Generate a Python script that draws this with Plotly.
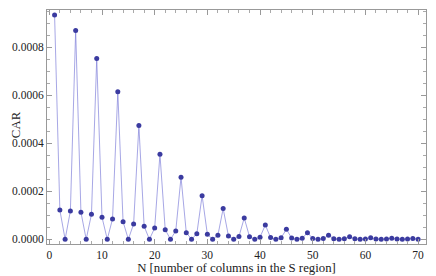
import plotly.graph_objects as go

N = list(range(1, 71))
peaks = {1: 0.000935, 5: 0.000871, 9: 0.000754, 13: 0.000615, 17: 0.000474,
         21: 0.000355, 25: 0.000259, 29: 0.000182, 33: 0.000128, 37: 0.0000889,
         41: 0.0000597, 45: 0.0000418, 49: 0.0000276, 53: 0.0000167, 57: 0.000011,
         61: 0.0000064, 65: 0.0000045, 69: 0.0000035}
sides = [0.000122, 0.000118, 0.000113, 0.000104, 0.000092, 0.000085, 0.0000735,
         0.000064, 0.000054, 0.000047, 0.000040, 0.0000347, 0.0000276, 0.0000234,
         0.000021, 0.000017, 0.000014, 0.000012, 0.000011, 0.000009, 0.000007,
         0.000006, 0.000005, 0.000004, 0.0000035, 0.000003, 0.0000025, 0.000002,
         0.0000018, 0.0000015, 0.0000012, 0.000001, 0.0000009, 0.0000008, 0.0000007]
car = []
si = 0
for n in N:
    r = n % 4
    if r == 1:
        car.append(peaks[n])
    elif r == 3:
        car.append(0.0)
    else:
        car.append(sides[si])
        si += 1

fig = go.Figure()
fig.add_trace(go.Scatter(x=N, y=car, mode="lines", line=dict(color="rgba(120,120,215,0.65)", width=1),
                         hoverinfo="skip"))
fig.add_trace(go.Scatter(x=N, y=car, mode="markers", marker=dict(color="#3b3ba0", size=5)))

font = dict(family="Liberation Serif", size=11.5, color="#222")
tfont = dict(family="Liberation Serif", size=12.8, color="#222")
axis_common = dict(showgrid=False, zeroline=False, showline=True, linecolor="#999",
                   linewidth=1, mirror="allticks", ticks="inside", ticklen=5,
                   tickcolor="#999", tickfont=font, automargin=False)
# page body adds an 8px offset; figure sized to fill the remaining window
fig.update_layout(
    width=428, height=268, showlegend=False,
    margin=dict(l=39, r=10, t=2, b=32),
    plot_bgcolor="white", paper_bgcolor="white",
    xaxis=dict(range=[-0.44, 71.5], dtick=10, tick0=0,
               minor=dict(dtick=2, ticks="inside", ticklen=3, tickcolor="#aaa"),
               title=dict(text="N [number of columns in the S region]", font=tfont, standoff=2),
               **axis_common),
    yaxis=dict(range=[-0.0000196, 0.000956], dtick=0.0002, tick0=0, tickformat=".4f",
               minor=dict(dtick=0.00005, ticks="inside", ticklen=3, tickcolor="#aaa"),
               **axis_common),
    annotations=[dict(text="CAR", xref="paper", yref="paper", x=-0.1029, y=0.508,
                      xanchor="left", yanchor="middle", textangle=-90,
                      showarrow=False, font=tfont, borderpad=0)],
)
fig.write_html("out.html")
